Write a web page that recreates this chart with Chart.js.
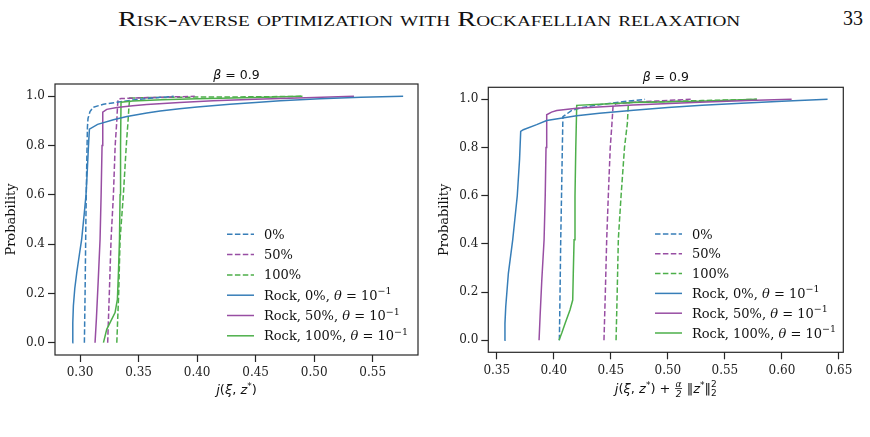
<!DOCTYPE html>
<html>
<head>
<meta charset="utf-8">
<script src="https://cdn.jsdelivr.net/npm/chart.js@4.4.1/dist/chart.umd.min.js"></script>
<style>
body{margin:0;background:#fff;width:870px;height:437px;position:relative;overflow:hidden}
.head{position:absolute;font-family:"Liberation Serif","DejaVu Serif",serif;color:#111;white-space:nowrap}
#title{left:118px;top:6px;font-size:22px;font-variant:small-caps;transform-origin:0 0}
#page{left:843px;top:7px;font-size:20px}
#c1{position:absolute;left:0;top:60px}
#c2{position:absolute;left:430px;top:60px}
</style>
</head>
<body>
<div class="head" id="title">Risk-averse optimization with Rockafellian relaxation</div>
<div class="head" id="page">33</div>
<canvas id="c1" width="430" height="340"></canvas>
<canvas id="c2" width="440" height="340"></canvas>
<script>

// running head is set wider in the paper
const head=document.getElementById('title')
head.style.transform='scaleX('+(622/head.offsetWidth)+')'

// legend text, same order as the curves below
const seriesLabels=['0%','50%','100%','Rock, 0%, θ = 10⁻¹','Rock, 50%, θ = 10⁻¹','Rock, 100%, θ = 10⁻¹']

const leftXTicks=[0.30,0.35,0.40,0.45,0.50,0.55]
const rightXTicks=[0.35,0.40,0.45,0.50,0.55,0.60,0.65]
const yTicks=[0,0.2,0.4,0.6,0.8,1.0]

// LEFT PANEL  [j value, probability]
const left0=[[0.3037,0],[0.3043,0.2],[0.3050,0.5],[0.3058,0.75],[0.3063,0.875],[0.3068,0.91],[0.3085,0.938],[0.3114,0.956],[0.320,0.968],[0.333,0.977],[0.345,0.985],[0.36,0.992],[0.38,1.0]]
const left50=[[0.3236,0],[0.3250,0.2],[0.3265,0.42],[0.3285,0.6],[0.3300,0.8],[0.3314,0.9],[0.3320,0.96],[0.3325,0.987],[0.3350,0.991],[0.36,0.995],[0.398,1.0]]
const left100=[[0.3314,0],[0.3330,0.2],[0.3342,0.42],[0.3370,0.6],[0.3395,0.8],[0.3410,0.9],[0.3418,0.96],[0.3425,0.993],[0.36,0.995],[0.40,0.997],[0.45,0.998],[0.4906,1.0]]
const leftRock0=[[0.2934,0],[0.2938,0.08],[0.2943,0.15],[0.2955,0.22],[0.2972,0.285],[0.2995,0.36],[0.3014,0.42],[0.3035,0.52],[0.3051,0.6],[0.3062,0.7],[0.3072,0.8],[0.3080,0.867],[0.315,0.886],[0.3285,0.905],[0.340,0.918],[0.357,0.932],[0.3684,0.940],[0.385,0.950],[0.40,0.957],[0.428,0.968],[0.45,0.975],[0.471,0.982],[0.505,0.990],[0.54,0.996],[0.576,1.0]]
const leftRock50=[[0.3128,0],[0.3140,0.1],[0.3155,0.25],[0.3171,0.42],[0.3180,0.6],[0.3188,0.8],[0.3194,0.936],[0.3228,0.947],[0.3314,0.955],[0.345,0.962],[0.357,0.967],[0.385,0.975],[0.4137,0.982],[0.45,0.988],[0.471,0.991],[0.50,0.995],[0.534,1.0]]
const leftRock100=[[0.3200,0],[0.3228,0.054],[0.3299,0.122],[0.3319,0.176],[0.3328,0.285],[0.3337,0.42],[0.3342,0.6],[0.3346,0.8],[0.3350,0.976],[0.345,0.981],[0.37,0.986],[0.40,0.990],[0.45,0.995],[0.49,1.0]]

// RIGHT PANEL  [j value + penalty, probability]
const right0=[[0.4049,0],[0.4055,0.2],[0.4061,0.42],[0.4068,0.6],[0.4075,0.8],[0.4078,0.874],[0.4080,0.928],[0.4157,0.954],[0.425,0.966],[0.44,0.978],[0.46,0.990],[0.48,1.0]]
const right50=[[0.4440,0],[0.4452,0.2],[0.4464,0.42],[0.4478,0.6],[0.4495,0.8],[0.4510,0.9],[0.4520,0.975],[0.455,0.982],[0.47,0.988],[0.49,0.993],[0.52,1.0]]
const right100=[[0.4546,0],[0.4556,0.2],[0.4566,0.42],[0.4590,0.6],[0.4620,0.8],[0.4645,0.9],[0.4653,0.975],[0.4660,0.987],[0.49,0.990],[0.53,0.995],[0.578,1.0]]
const rightRock0=[[0.3567,0],[0.3572,0.07],[0.3579,0.14],[0.3602,0.278],[0.3640,0.417],[0.3680,0.6],[0.3700,0.75],[0.3710,0.867],[0.3733,0.874],[0.385,0.895],[0.3938,0.912],[0.42,0.932],[0.44,0.942],[0.47,0.955],[0.50,0.966],[0.53,0.975],[0.56,0.983],[0.60,0.992],[0.640,1.0]]
const rightRock50=[[0.3871,0],[0.3880,0.1],[0.3895,0.25],[0.3915,0.417],[0.3925,0.6],[0.3932,0.8],[0.3938,0.936],[0.3980,0.947],[0.4026,0.954],[0.42,0.963],[0.4695,0.977],[0.528,0.988],[0.57,0.995],[0.6085,1.0]]
const rightRock100=[[0.4046,0],[0.4070,0.03],[0.4099,0.07],[0.4142,0.126],[0.4166,0.167],[0.4171,0.278],[0.4178,0.417],[0.4186,0.6],[0.4193,0.8],[0.4201,0.975],[0.44,0.980],[0.4697,0.987],[0.528,0.992],[0.578,1.0]]

const colors=['#377eb8','#984ea3','#4daf4a']
const ink='#262626'

function makeSets(curves){
return curves.map((c,i)=>({
label:seriesLabels[i],
data:c.map(p=>({x:p[0],y:p[1]})),
borderColor:colors[i%3],
borderWidth:1.5,
borderDash:i<3?[5.5,2.4]:[],
order:i<3?1:0,
showLine:true,
pointRadius:0,
tension:0,
fill:false
}))
}

// draw a row of text pieces with different fonts
function runWidth(ctx,r){
ctx.font=r.f
if(r.back) return 0
if(r.frac) return Math.max(ctx.measureText(r.frac[0]).width,ctx.measureText(r.frac[1]).width)+2
return ctx.measureText(r.t).width
}
function drawRuns(ctx,runs,x,y,align){
let total=runs.reduce((s,r)=>s+runWidth(ctx,r),0)
let cx=align=='center'?x-total/2:x
let lastW=0
runs.forEach(r=>{
let w=runWidth(ctx,r)
ctx.font=r.f
ctx.textAlign='left'
ctx.textBaseline='alphabetic'
if(r.frac){
let a=ctx.measureText(r.frac[0]).width, b=ctx.measureText(r.frac[1]).width
ctx.fillText(r.frac[0],cx+(w-a)/2,y-6.5)
ctx.fillText(r.frac[1],cx+(w-b)/2,y+3.5)
ctx.fillRect(cx+0.5,y-5,w-1,0.8)
}else if(r.back){
ctx.fillText(r.t,cx-lastW,y+(r.dy||0))
}else{
ctx.fillText(r.t,cx,y+(r.dy||0))
}
if(!r.back) lastW=w
cx+=w
})
}

const sans='13px "DejaVu Sans"', sansIt='italic 13px "DejaVu Sans"', sansSm='9px "DejaVu Sans"'
const serif='13px "DejaVu Serif"', serifIt='italic 13px "DejaVu Serif"', serifSm='9.5px "DejaVu Serif"'

const xLabelLeft=[{t:'j',f:sansIt},{t:'(',f:sans},{t:'ξ',f:sansIt},{t:', ',f:sans},{t:'z',f:sansIt},{t:'*',f:sansSm,dy:-5},{t:')',f:sans}]
const xLabelRight=xLabelLeft.concat([{t:' + ',f:sans},{frac:['α','2'],f:'italic 9px "DejaVu Sans"'},{t:' ‖',f:sans},{t:'z',f:sansIt},{t:'*',f:sansSm,dy:-5},{t:'‖',f:sans},{t:'2',f:sansSm,dy:-6},{t:'2',f:sansSm,dy:3,back:true}])
const titleRuns=[{t:'β',f:'italic 12.5px "DejaVu Sans"'},{t:' = 0.9',f:'12.5px "DejaVu Sans"'}]

const decor={
id:'decor',
afterDraw(chart,args,o){
const ctx=chart.ctx, a=chart.chartArea
ctx.save()
ctx.strokeStyle=ink
ctx.lineWidth=1.2
ctx.strokeRect(a.left,a.top,a.right-a.left,a.bottom-a.top)
ctx.fillStyle='#111'
drawRuns(ctx,titleRuns,(a.left+a.right)/2,o.titleY,'center')
drawRuns(ctx,o.xlabel,(a.left+a.right)/2,o.xlabelY,'center')
// y label
ctx.save()
ctx.translate(o.ylabelX,(a.top+a.bottom)/2)
ctx.rotate(-Math.PI/2)
ctx.font=serif
ctx.textAlign='center'
ctx.textBaseline='middle'
ctx.fillText('Probability',0,0)
ctx.restore()
// legend
chart.data.datasets.forEach((d,i)=>{
let y=o.legY+i*o.legStep
ctx.strokeStyle=d.borderColor
ctx.lineWidth=1.5
ctx.setLineDash(d.borderDash)
ctx.beginPath()
ctx.moveTo(o.legX,y)
ctx.lineTo(o.legX+27,y)
ctx.stroke()
ctx.setLineDash([])
ctx.fillStyle='#111'
let parts=d.label.split('θ')
let runs=[{t:parts[0],f:serif}]
if(parts.length>1){
runs.push({t:'θ',f:serifIt})
runs.push({t:parts[1].replace('⁻¹',''),f:serif})
runs.push({t:'−1',f:serifSm,dy:-5.5})
}
drawRuns(ctx,runs,o.legX+37,y+4.5,'left')
})
ctx.restore()
}
}

function makeChart(id,curves,xr,xt,box,deco){
new Chart(document.getElementById(id),{
type:'scatter',
data:{datasets:makeSets(curves)},
options:{
responsive:false,
animation:false,
events:[],
layout:{padding:{left:0,top:box.top,right:box.right,bottom:0}},
plugins:{legend:{display:false},tooltip:{enabled:false},decor:deco},
scales:{
x:{
type:'linear',min:xr[0],max:xr[1],
afterBuildTicks:s=>{s.ticks=xt.map(v=>({value:v}))},
afterFit:s=>{s.height=box.bottom},
grid:{display:true,drawOnChartArea:false,drawTicks:true,tickLength:7,tickWidth:1.2,tickColor:ink},
border:{display:false},
ticks:{font:{family:'DejaVu Serif',size:12},color:'#222',padding:4,maxRotation:0,autoSkip:false,callback:v=>v.toFixed(2)}
},
y:{
type:'linear',min:-0.05,max:1.05,
afterBuildTicks:s=>{s.ticks=yTicks.map(v=>({value:v}))},
afterFit:s=>{s.width=box.left},
grid:{display:true,drawOnChartArea:false,drawTicks:true,tickLength:7,tickWidth:1.2,tickColor:ink},
border:{display:false},
ticks:{font:{family:'DejaVu Serif',size:12},color:'#222',padding:3,autoSkip:false,callback:v=>v.toFixed(1)}
}
}
},
plugins:[decor]
})
}

makeChart('c1',[left0,left50,left100,leftRock0,leftRock50,leftRock100],[0.2786,0.5887],leftXTicks,
{left:55,top:24,right:12,bottom:45},
{titleY:19,xlabelY:334,xlabel:xLabelLeft,ylabelX:12,legX:227,legY:174.3,legStep:20.3})

makeChart('c2',[right0,right50,right100,rightRock0,rightRock50,rightRock100],[0.3426,0.6538],rightXTicks,
{left:58.3,top:27.3,right:26.7,bottom:47.7},
{titleY:21,xlabelY:333,xlabel:xLabelRight,ylabelX:15,legX:225,legY:174,legStep:19.8})

</script>
</body>
</html>
